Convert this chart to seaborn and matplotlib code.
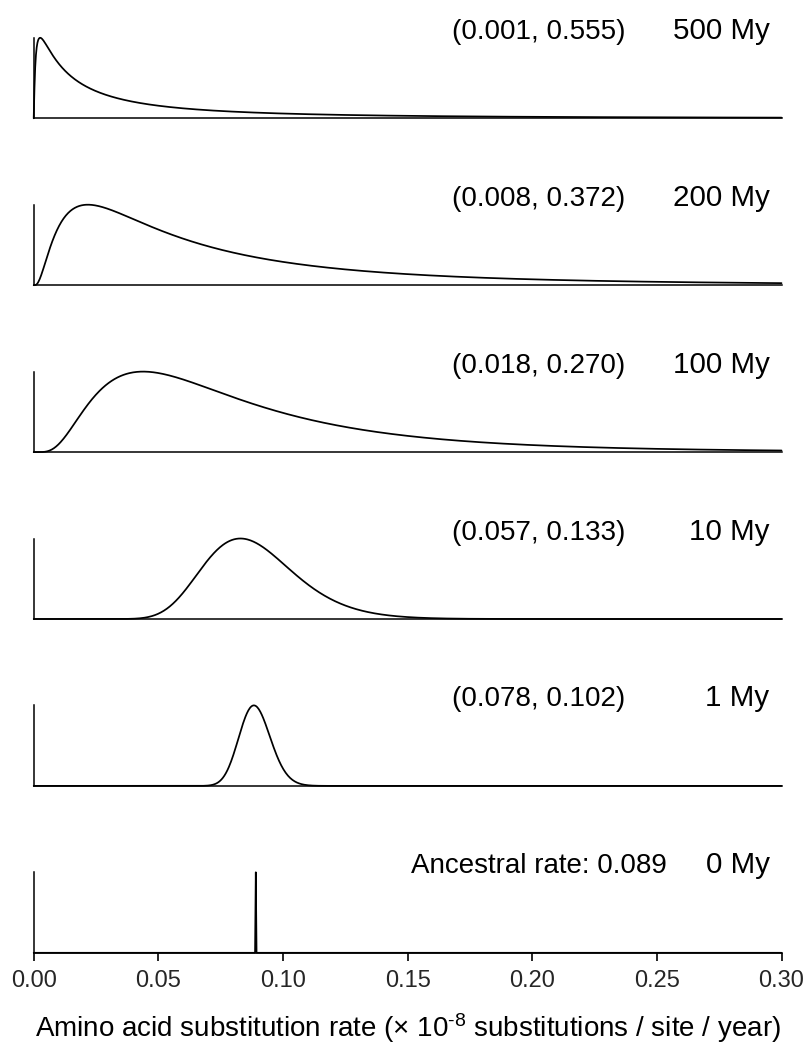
import numpy as np
import pandas as pd
import matplotlib
matplotlib.use("Agg")
import matplotlib.pyplot as plt
import seaborn as sns

# Ages of the panels (million years) and 95% intervals of the rate distribution
ages_my = [500, 200, 100, 10, 1, 0]
ci_lower = [0.001, 0.008, 0.018, 0.057, 0.078, None]
ci_upper = [0.555, 0.372, 0.270, 0.133, 0.102, None]
ancestral_rate = 0.089
x_ticks = [0.00, 0.05, 0.10, 0.15, 0.20, 0.25, 0.30]
x_tick_labels = ["0.00", "0.05", "0.10", "0.15", "0.20", "0.25", "0.30"]
x_label = "Amino acid substitution rate (\u00d7 10$^{\\text{-8}}$ substitutions / site / year)"

sns.set_theme(style="ticks")
plt.rcParams["font.family"] = ["Liberation Sans", "DejaVu Sans"]
plt.rcParams["mathtext.fontset"] = "custom"
plt.rcParams["mathtext.rm"] = "Liberation Sans"
plt.rcParams["mathtext.it"] = "Liberation Sans:italic"

Z975 = 1.959964
rate_grid = np.linspace(0.0, 0.30, 1001)


def lognormal_density(x, upper, mean):
    # mean-preserving lognormal whose 97.5% quantile is `upper`
    d = np.log(upper / mean)
    s = Z975 - np.sqrt(Z975 ** 2 - 2.0 * d)
    mu = np.log(mean) - s ** 2 / 2.0
    safe = np.where(x > 0, x, 1.0)
    pdf = np.exp(-(np.log(safe) - mu) ** 2 / (2 * s ** 2)) / (safe * s * np.sqrt(2 * np.pi))
    return np.where(x > 0, pdf, 0.0)


frames = []
for age, lo, up in zip(ages_my, ci_lower, ci_upper):
    if up is None:
        dens = np.zeros_like(rate_grid)
        dens[np.argmin(np.abs(rate_grid - ancestral_rate))] = 1.0
    else:
        dens = lognormal_density(rate_grid, up, ancestral_rate)
    dens = dens / dens.max()
    frames.append(pd.DataFrame({"age": age, "rate": rate_grid, "density": dens}))
df = pd.concat(frames, ignore_index=True)

W, H, DPI = 807, 1045, 100
fig = plt.figure(figsize=(W / DPI, H / DPI), dpi=DPI)
fig.patch.set_facecolor("white")

left_px, right_px = 33.7, 781.5
panel_h = 80.5
tick_px = 8.0
lw = 1.1

for i, (age, lo, up) in enumerate(zip(ages_my, ci_lower, ci_upper)):
    base_px = 118.3 + 166.9 * i
    ax = fig.add_axes([left_px / W, (H - base_px) / H,
                       (right_px - left_px) / W, panel_h / H])
    sub = df[df["age"] == age]
    sns.lineplot(data=sub, x="rate", y="density", ax=ax, color="black",
                 linewidth=1.25, sort=False, estimator=None)
    for line in ax.lines:
        line.set_clip_on(False)
    ax.set_xlim(0, 0.30)
    ax.set_ylim(0, 1)
    ax.set_xlabel("")
    ax.set_ylabel("")
    ax.set_facecolor("none")
    for side in ("top", "right"):
        ax.spines[side].set_visible(False)
    for side in ("left", "bottom"):
        ax.spines[side].set_color("black")
        ax.spines[side].set_linewidth(lw)
    ax.set_yticks([])
    if i == len(ages_my) - 1:
        ax.set_xticks(x_ticks)
        ax.set_xticklabels(x_tick_labels, fontsize=17)
        ax.tick_params(axis="x", which="major", bottom=True, direction="out",
                       length=tick_px * 0.72, width=1.2, color="black", pad=6.5)
        interval_text = f"Ancestral rate: {ancestral_rate:.3f}"
    else:
        ax.set_xticks([])
        interval_text = f"({lo:.3f}, {up:.3f})"
    trans = ax.get_xaxis_transform()
    y_txt = 1.0 - 1.0 / panel_h
    ax.text(0.2025, y_txt, interval_text, transform=trans, ha="center",
            va="baseline", fontsize=20, color="black")
    ax.text(0.2952, y_txt, f"{age} My", transform=trans, ha="right",
            va="baseline", fontsize=21.3, color="black")

fig.text((left_px + right_px) / 2 / W, 1 - 1037 / H, x_label, ha="center",
         va="baseline", fontsize=20, color="black")

fig.savefig("out.png", dpi=DPI, facecolor="white")
